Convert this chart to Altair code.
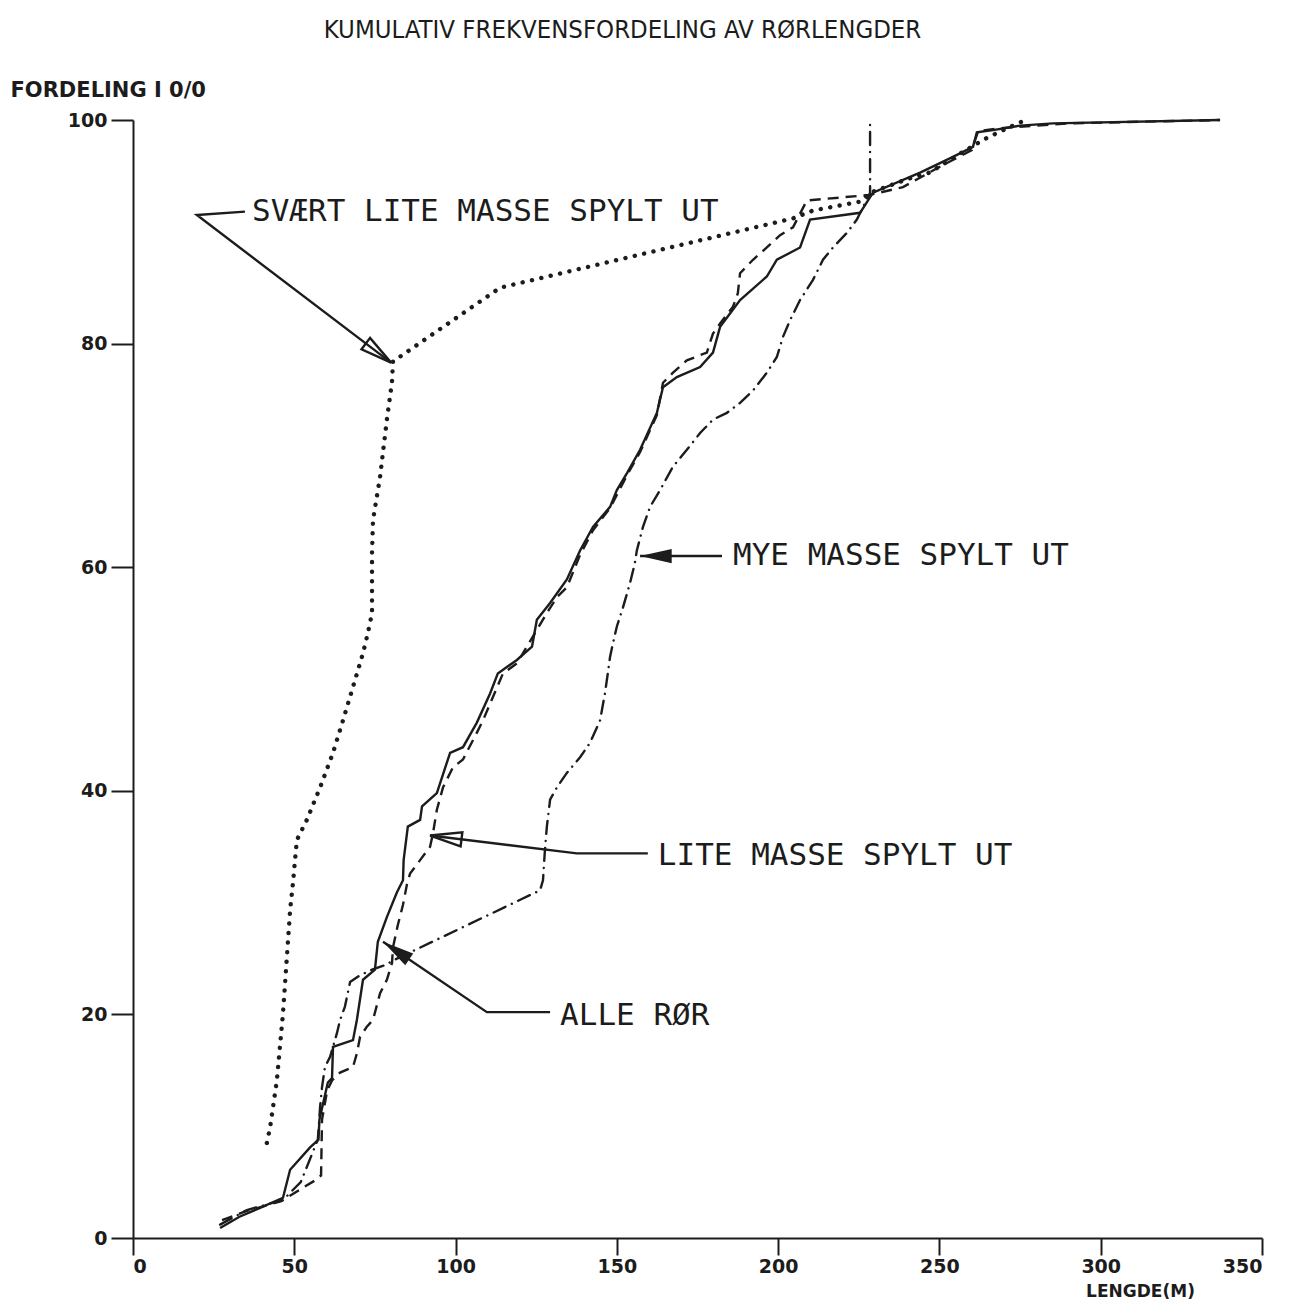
import altair as alt
import pandas as pd

INK = "#1c1c1c"

TITLE = "KUMULATIV FREKVENSFORDELING AV RØRLENGDER"
Y_TITLE = "FORDELING I 0/0"
X_TITLE = "LENGDE(M)"
X_TICKS = [0, 50, 100, 150, 200, 250, 300, 350]
Y_TICKS = [0, 20, 40, 60, 80, 100]

# ALLE RØR (solid)
ALLE_X = [27, 33, 39.4, 46.5, 48.7, 54.9, 57.5, 57.8, 60.4, 61.7, 62, 68.2, 69.4, 71.3, 75, 75.9,
          78.7, 81.8, 83.7, 83.9, 85.2, 89, 89.6, 94.2, 98.3, 102.3, 106.6, 110.7, 113.1, 119,
          123.7, 125.2, 129.3, 134.5, 138.6, 142.6, 147.9, 150, 153.1, 157.2, 162.4, 164.3,
          168.6, 175.8, 179.8, 182, 188.2, 196.5, 199.6, 206.8, 209.9, 225.4, 229.4, 244,
          254.2, 260.4, 261.6, 266.6, 275, 285.2, 337]
ALLE_Y = [0.9, 1.9, 2.7, 3.6, 6.1, 8.1, 8.8, 10.6, 13.9, 14.3, 17.1, 17.7, 19.5, 23.1, 24, 26.5,
          28.7, 30.9, 32, 33.8, 36.8, 37.4, 38.6, 39.8, 43.4, 43.9, 46.1, 48.7, 50.5, 51.7,
          52.9, 55.3, 56.8, 58.9, 61.5, 63.6, 65.4, 66.9, 68.4, 70.5, 73.8, 76.1,
          77, 77.9, 79.2, 81.5, 83.9, 86, 87.5, 88.6, 91.1, 91.7, 93.5, 95.3,
          96.7, 97.6, 98.9, 99.1, 99.5, 99.7, 100]

# LITE MASSE SPYLT UT (dashed)
LITE_X = [27.6, 35, 46, 52.7, 57.3, 58.3, 58.6, 60.2, 61.7, 64.2, 68.2, 69.4, 70.4, 72.5, 74.4,
          76.6, 78.7, 80.3, 80.6, 82.1, 83.7, 84.9, 85.9, 89, 92.1, 93, 94.2, 96.1, 99.2, 102.3,
          106.6, 108.5, 114.7, 119, 128.3, 131.4, 134.5, 138.6, 142.6, 147.9, 153.1, 157.2,
          162.4, 164.3, 167.4, 171.7, 177.9, 179.8, 182, 186, 187.5, 188.2, 192.2, 196.5,
          200.6, 204.6, 208.9, 228.5, 238.7, 250, 260, 262, 270, 290, 337]
LITE_Y = [1.6, 2.4, 3.3, 4.5, 5.3, 5.6, 10.6, 13.2, 14.1, 14.8, 15.3, 16.5, 18, 18.9, 19.5,
          21.9, 23.1, 24.6, 26, 28, 29.8, 31.6, 32.6, 33.8, 35, 36.2, 38.3, 40.3, 42.1, 42.8,
          45.2, 46.3, 50.5, 51.4, 55.9, 57.3, 58.2, 61.1, 63.3, 65.3, 68.2, 70.3,
          73.6, 76.5, 77.4, 78.5, 79.2, 80.9, 81.8, 83.3, 84.5, 86.3, 87.5, 88.6,
          89.7, 90.4, 92.8, 93.3, 94.0, 95.8, 97.3, 99, 99.3, 99.7, 100]

# MYE MASSE SPYLT UT (dash-dot)
MYE_X = [27, 35.3, 46.5, 52, 57.3, 58, 58.6, 59.5, 61.1, 63.2, 64.2, 65.7, 67.3, 70.4, 74.1,
         78.1, 81.2, 126.2, 127.1, 127.7, 128.3, 129.3, 131.4, 134.5, 138.6, 141.7, 144.8,
         146.3, 147.2, 147.9, 148.8, 150, 151.9, 154.1, 155.6, 156.2, 158.1, 160.3, 163.4,
         167.4, 171.7, 175.8, 179.8, 184.1, 188.2, 192.2, 196.5, 199.6, 201.5, 203.7, 206.8,
         210.8, 213.9, 217, 221.3, 224.4, 226.3, 228.5, 228.5]
MYE_Y = [1.2, 2.5, 3.4, 5, 8.8, 11.7, 13.5, 15.3, 16.2, 18.3, 19.5, 20.7, 22.9, 23.5, 24,
         24.4, 24.9, 31.1, 32.0, 34.7, 36.8, 39.2, 40.3, 41.6, 43.0, 44.3, 46.3,
         48.7, 50.5, 52, 53.2, 54.7, 56.4, 58.6, 60.4, 61.5, 63.6, 65.4, 66.9,
         69, 70.5, 72, 73.2, 73.8, 74.7, 75.8, 77.4, 78.8, 80.6, 82.1, 83.9,
         85.7, 87.5, 88.6, 89.9, 91.1, 92.2, 93.5, 100]

# SVÆRT LITE MASSE SPYLT UT (dotted)
SVAERT_X = [41.5, 42.5, 44.6, 46.5, 48.7, 49.6, 50.8, 53.9, 58, 62, 65.1, 68.2, 71.3, 72.8, 74.1,
            74.1, 74.4, 76.6, 78.7, 80.3, 80.6, 113.8, 204.6, 210.8, 225.4, 228.5, 240.9, 247,
            257, 264.7, 275, 278]
SVAERT_Y = [8.5, 9.9, 14.1, 20.1, 29.3, 31.8, 35.6, 37.4, 40.3, 43.4, 46.3, 49.3, 52.3, 54.1, 55.9,
            61.3, 64.2, 68.1, 73.2, 76.6, 78.4, 85, 91.2, 91.9, 92.7, 93.5, 94.8, 95.3,
            97.1, 98.4, 99.8, 100]

# annotations
LABELS = ["SVÆRT LITE MASSE SPYLT UT", "MYE MASSE SPYLT UT", "LITE MASSE SPYLT UT", "ALLE RØR"]
LABEL_X = [36.9, 186.0, 162.7, 132.4]
LABEL_Y = [91.8, 61.0, 34.2, 19.9]
LEADER_X = [[34.7, 19.8, 80.0], [182.6, 157.2], [159.6, 137.6, 92.1], [129.3, 109.7, 77.5]]
LEADER_Y = [[91.8, 91.5, 78.3], [61.0, 61.0], [34.4, 34.4, 36.0], [20.2, 20.2, 26.5]]
ARROW_ANGLE = [127, 270, 277, 304]
ARROW_FILLED = [False, True, False, True]


def frame(xs, ys, name):
    return pd.DataFrame({"x": xs, "y": ys, "serie": name, "i": list(range(len(xs)))})


curves = pd.concat([
    frame(ALLE_X, ALLE_Y, "ALLE"),
    frame(LITE_X, LITE_Y, "LITE"),
    frame(MYE_X, MYE_Y, "MYE"),
    frame(SVAERT_X, SVAERT_Y, "SVAERT"),
], ignore_index=True)

leaders = pd.concat([frame(xs, ys, LABELS[k]) for k, (xs, ys) in enumerate(zip(LEADER_X, LEADER_Y))],
                    ignore_index=True)
tips = pd.DataFrame({
    "x": [xs[-1] for xs in LEADER_X],
    "y": [ys[-1] for ys in LEADER_Y],
    "ang": ARROW_ANGLE,
    "filled": ARROW_FILLED,
})
labels = pd.DataFrame({"x": LABEL_X, "y": LABEL_Y, "text": LABELS})

X_SCALE = alt.Scale(domain=[0, 350], nice=False, zero=False)
Y_SCALE = alt.Scale(domain=[0, 100], nice=False, zero=False)

AXIS_FONT = "DejaVu Sans"

X_AXIS = alt.Axis(values=X_TICKS, format="d", title=X_TITLE, grid=False,
                  labelFont=AXIS_FONT, labelFontSize=19, labelFontWeight="bold",
                  labelColor=INK, labelPadding=2, labelFlush=True, labelOverlap=False,
                  tickSize=17, tickWidth=2, tickColor=INK, domainColor=INK, domainWidth=2,
                  titleFont=AXIS_FONT, titleFontSize=17, titleFontWeight="bold",
                  titleColor=INK, titleX=1007, titleY=58, titleAlign="center",
                  titleBaseline="alphabetic")
Y_AXIS = alt.Axis(values=Y_TICKS, format="d", title=Y_TITLE, grid=False,
                  labelFont=AXIS_FONT, labelFontSize=19, labelFontWeight="bold",
                  labelColor=INK, labelPadding=4, labelFlush=False, labelOverlap=False,
                  tickSize=22, tickWidth=2, tickColor=INK, domainColor=INK, domainWidth=2,
                  titleFont=AXIS_FONT, titleFontSize=21, titleFontWeight="bold",
                  titleColor=INK, titleAngle=0, titleX=-123, titleY=-24, titleAlign="left",
                  titleBaseline="alphabetic")

XE = alt.X("x:Q", scale=X_SCALE, axis=X_AXIS)
YE = alt.Y("y:Q", scale=Y_SCALE, axis=Y_AXIS)


def curve(name, **style):
    return alt.Chart(curves).transform_filter(alt.datum.serie == name).mark_line(
        color=INK, clip=False, **style).encode(x=XE, y=YE, order="i:Q")


solid = curve("ALLE", strokeWidth=2.4)
dashed = curve("LITE", strokeWidth=2.4, strokeDash=[11, 7])
dashdot = curve("MYE", strokeWidth=2.4, strokeDash=[13, 7, 0.1, 7], strokeCap="round")
dotted = curve("SVAERT", strokeWidth=4.4, strokeDash=[0.1, 9.5], strokeCap="round")

leader_lines = alt.Chart(leaders).mark_line(color=INK, strokeWidth=2.4).encode(
    x=XE, y=YE, detail="serie:N", order="i:Q")

ARROW_SHAPE = "M0,0L0.45,2L-0.45,2Z"
arrows_open = alt.Chart(tips).transform_filter("!datum.filled").mark_point(
    shape=ARROW_SHAPE, size=1000, filled=False, color=INK, strokeWidth=2.4, opacity=1).encode(
    x=XE, y=YE, angle=alt.Angle("ang:Q", scale=None))
arrows_fill = alt.Chart(tips).transform_filter("datum.filled").mark_point(
    shape=ARROW_SHAPE, size=1000, filled=True, color=INK, opacity=1).encode(
    x=XE, y=YE, angle=alt.Angle("ang:Q", scale=None))

texts = alt.Chart(labels).mark_text(
    align="left", baseline="middle", font="DejaVu Sans Mono", fontSize=31, color=INK).encode(
    x=XE, y=YE, text="text:N")

chart = alt.layer(solid, dashed, dashdot, dotted, leader_lines, arrows_open, arrows_fill, texts).properties(
    width=1129, height=1118,
    padding={"left": 125, "top": 112, "right": 30, "bottom": 62},
    autosize=alt.AutoSizeParams(type="none"),
    background="white",
    title=alt.TitleParams(text=TITLE, anchor="middle", frame="group", dx=-75, offset=36,
                          font="Liberation Sans Narrow, DejaVu Sans Condensed, Liberation Sans",
                          fontSize=25.5, fontWeight="normal", color=INK),
).configure_view(stroke=None)

chart.save("out.html", embed_options={"renderer": "svg", "actions": False})
